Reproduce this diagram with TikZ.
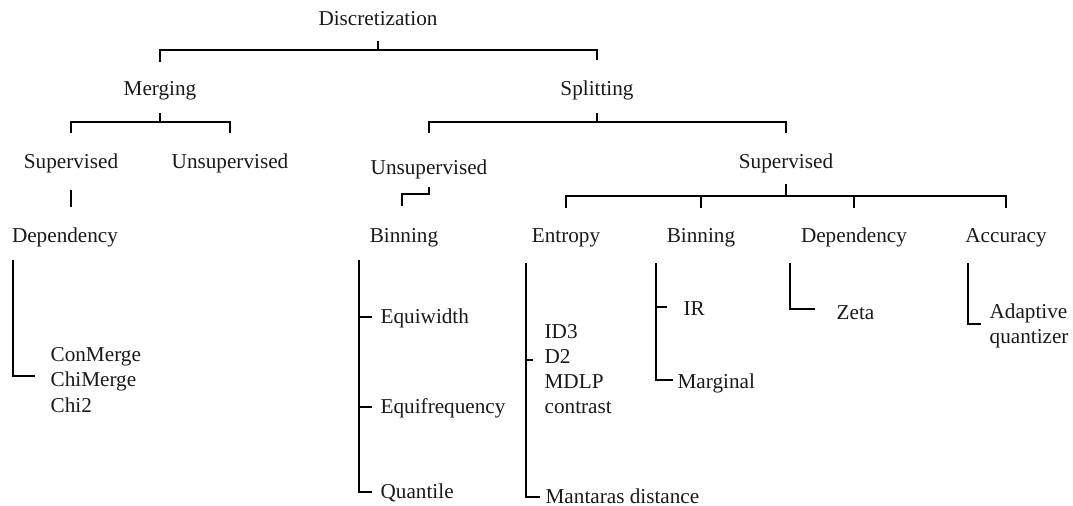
\documentclass[tikz,border=0pt]{standalone}
\usepackage{fontspec}
\setmainfont{Liberation Serif}
\usetikzlibrary{calc}

\begin{document}
\begin{tikzpicture}[x=0.5pt,y=-0.5pt,line width=0.65pt,
  every node/.style={font=\fontsize{10.6}{12.6}\selectfont,text=black!90},
  lbl/.style={inner sep=0pt,text height=0.7em,text depth=0.2em},
  leaf/.style={inner sep=0pt,anchor=west,align=left}]
  \useasboundingbox (0,0) rectangle (1073,506);
  \node[lbl] (disc) at (378,21) {Discretization};
  \node[lbl] (merg) at (160,91) {Merging};
  \node[lbl] (split) at (597,91) {Splitting};
  \node[lbl] (msup) at (71,164) {Supervised};
  \node[lbl] (munsup) at (230,164) {Unsupervised};
  \node[lbl] (sunsup) at (429,170) {Unsupervised};
  \node[lbl] (supv) at (786,164) {Supervised};
  \node[lbl] (mdep) at (65,238) {Dependency};
  \node[lbl] (ubin) at (404,238) {Binning};
  \node[lbl] (ent) at (566,238) {Entropy};
  \node[lbl] (sbin) at (701,238) {Binning};
  \node[lbl] (sdep) at (854,238) {Dependency};
  \node[lbl] (acc) at (1006,238) {Accuracy};
  \node[leaf] (cm) at (50,380) {ConMerge\\ChiMerge\\Chi2};
  \node[leaf] (ew) at (380,318) {Equiwidth};
  \node[leaf] (ef) at (380,408) {Equifrequency};
  \node[leaf] (qt) at (380,493) {Quantile};
  \node[leaf] (el) at (544,369) {ID3\\D2\\MDLP\\contrast};
  \node[leaf] (md) at (545,496) {Mantaras distance};
  \node[leaf] (ir) at (683,309) {IR};
  \node[leaf] (mg) at (677,383) {Marginal};
  \node[leaf] (zt) at (836,313) {Zeta};
  \node[leaf] (aq) at (989,326) {Adaptive\\quantizer};
  \draw ($(disc.south)+(0,10.5)$) -- ++(0,9) coordinate (b1);
  \draw ($(merg.north)+(0,-19.5)$) |- (b1) -| ($(split.north)+(0,-21.5)$);
  \draw ($(merg.south)+(0,12.5)$) -- ++(0,9) coordinate (b2);
  \draw ($(msup.north)+(0,-21.5)$) |- (b2) -| ($(munsup.north)+(0,-21.5)$);
  \draw ($(split.south)+(0,12.5)$) -- ++(0,9) coordinate (b3);
  \draw ($(sunsup.north)+(0,-27.5)$) |- (b3) -| ($(supv.north)+(0,-21.5)$);
  \draw ($(msup.south)+(0,16.5)$) -- ($(msup.south |- mdep.north)+(0,-21.5)$);
  \draw ($(sunsup.south)+(0,7.5)$) -- ++(0,7) -| ($(ubin.north)+(-2,-22.5)$);
  \draw ($(supv.south)+(0,10.5)$) -- ++(0,12) coordinate (b4);
  \draw ($(ent.north)+(0,-20.5)$) |- (b4) -| ($(acc.north)+(0,-20.5)$);
  \draw ($(sbin.north)+(0,-20.5)$) -- (sbin.north |- b4);
  \draw ($(sdep.north)+(0,-20.5)$) -- (sdep.north |- b4);
  \draw ($(mdep.south)+(-52,12.5)$) |- ($(cm.west)+(-15,-4)$);
  \draw ($(ubin.south)+(-45,12.5)$) |- ($(qt.west)+(-8,-1)$);
  \draw ($(ew.west)+(-8,-1)$) -- ++(-13,0);
  \draw ($(ef.west)+(-8,-1)$) -- ++(-13,0);
  \draw ($(ent.south)+(-40,15.5)$) |- ($(md.west)+(-5,1)$);
  \draw ($(el.west)+(-11,-9)$) -- ++(-7,0);
  \draw ($(sbin.south)+(-45,15.5)$) |- ($(mg.west)+(-4,-3)$);
  \draw ($(ir.west)+(-16,-2)$) -- ++(-11,0);
  \draw ($(sdep.south)+(-64,15.5)$) |- ($(zt.west)+(-21,-4)$);
  \draw ($(acc.south)+(-38,15.5)$) |- ($(aq.west)+(-8,-2)$);
\end{tikzpicture}
\end{document}
